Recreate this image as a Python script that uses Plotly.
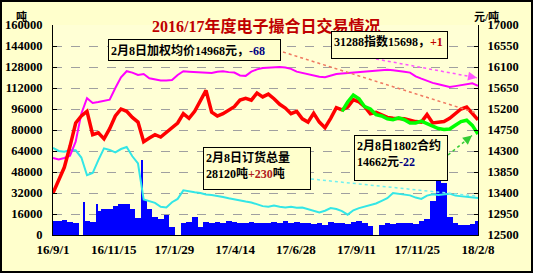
import plotly.graph_objects as go
import pandas as pd

# ---------------- data ----------------
week_dates = pd.date_range("2016-09-01", periods=76, freq="7D")

# daily volume (tons), weekly readings
volume = [10500, 11000, 11500, 10000, 9000, 0, 11000, 10000, 18000, 20000,
          20000, 22000, 24000, 24000, 20000, 13000, 27000, 20000, 14000, 12000,
          15000, 6000, 0, 9000, 10000, 14000, 6000, 10000, 9500, 10000,
          9000, 10500, 10000, 9500, 9000, 10000, 9000, 9500, 9000, 10000,
          9000, 10500, 9500, 10000, 9000, 9500, 8500, 9000, 8000, 10000,
          9000, 9500, 8500, 10000, 10500, 9500, 7000, 0, 8000, 9000,
          8500, 9000, 9500, 9000, 8500, 11000, 12500, 26000, 42000, 40000,
          14000, 9000, 8000, 7500, 8500, 11000]

spike_dates = ["2016-10-10", "2016-10-26", "2016-12-20"]
spike_volume = [25000, 24000, 57000]

# total order quantity (tons)
orders = [66300, 64000, 63500, 64800, 64500, 59000, 45500, 47200, 57000, 66000,
          64800, 63000, 65500, 67000, 60000, 54500, 27000, 25500, 24500, 21500,
          21000, 25000, 27500, 34000, 33000, 32500, 32000, 30800, 30500, 30000,
          29000, 28000, 27000, 26500, 25500, 24800, 23500, 22000, 21500, 22500,
          21500, 21000, 21500, 20800, 21000, 19800, 18500, 17200, 18500, 20500,
          19800, 18200, 15500, 18800, 20500, 21500, 22800, 24000, 26000, 28000,
          32000, 31500, 30500, 30200, 28500, 27500, 30000, 31000, 30500, 31200,
          31500, 30000, 29500, 28900, 28500, 28120]

# weighted average price (yuan/ton)
avg_price = [13400, 13700, 13950, 14400, 14900, 15050, 15150, 14650, 14690, 14560,
             14780, 15050, 15200, 15150, 15020, 14920, 14500, 14580, 14650, 14600,
             14700, 14800, 14900, 15100, 15000, 15150, 15390, 15600, 15130, 15050,
             15100, 15180, 15250, 15390, 15430, 15390, 15540, 15460, 15520, 15420,
             15300, 15220, 15100, 15150, 14990, 14920, 15110, 14920, 14800, 15000,
             15230, 15180, 15240, 15400, 15350, 15250, 15100, 15130, 15080, 15020,
             15000, 14990, 14990, 14960, 14930, 14920, 15080, 14900, 14920, 14930,
             15000, 15090, 15200, 15240, 15100, 14968]

# 31288 index (yuan/ton)
index_31288 = [14150, 14120, 14150, 14200, 14500, 15100, 15430, 15330, 15350, 15370,
               15400, 15650, 15880, 16010, 15980, 15930, 15950, 15860, 15830, 15810,
               15810, 15820, 15930, 16010, 16000, 15990, 15990, 15980, 15970, 16000,
               16010, 15990, 15980, 15920, 15910, 16000, 16050, 16080, 16090, 16100,
               16100, 16090, 16060, 16000, 15970, 15940, 15910, 15890, 15880, 15920,
               15950, 15960, 15970, 15990, 16000, 16000, 16010, 16020, 16030, 16040,
               16030, 16020, 16000, 15980, 15900, 15850, 15800, 15760, 15730, 15700,
               15672, 15690, 15710, 15740, 15750, 15698]

# 1802 contract (yuan/ton), starts later
c1802_dates = week_dates[51:]
c1802 = [15150, 15350, 15500, 15420, 15250, 15200, 15080, 15050, 14990, 14970,
         15010, 14970, 14900, 14900, 14940, 14880, 14830, 14780, 14760, 14770,
         14850, 14930, 14960, 14850, 14662]

tick_dates = ["2016-09-01", "2016-11-15", "2017-01-29", "2017-04-14",
              "2017-06-28", "2017-09-11", "2017-11-25", "2018-02-08"]
tick_labels = ["16/9/1", "16/11/15", "17/1/29", "17/4/14",
               "17/6/28", "17/9/11", "17/11/25", "18/2/8"]

title_text = "2016/17年度电子撮合日交易情况"

# ---------------- layout geometry ----------------
W, H = 533, 273
L, R, T, B = 53, 55, 25, 38
PW, PH = W - L - R, H - T - B
Y1 = (0, 160000)
Y2 = (12500, 17000)


def px(x):
    return (x - L) / PW


def py(y):
    return (H - B - y) / PH


def p1(v):
    return (v - Y1[0]) / (Y1[1] - Y1[0])


def p2(v):
    return (v - Y2[0]) / (Y2[1] - Y2[0])


DAY = 86400000
BG = "#FFFFCC"
MIX = "Liberation Serif, Noto Sans CJK SC"
SERIF = "Liberation Serif"

fig = go.Figure()
fig.add_bar(x=week_dates, y=volume, width=7 * DAY, marker_color="#0000FF",
            marker_line_width=0, yaxis="y")
fig.add_bar(x=spike_dates, y=spike_volume, width=1.5 * DAY, marker_color="#0000FF",
            marker_line_width=0, yaxis="y")
fig.add_scatter(x=week_dates, y=orders, mode="lines", yaxis="y",
                line=dict(color="#33E6E6", width=2))
fig.add_scatter(x=week_dates, y=index_31288, mode="lines", yaxis="y2",
                line=dict(color="#FF00FF", width=2))
fig.add_scatter(x=week_dates, y=avg_price, mode="lines", yaxis="y2",
                line=dict(color="#FF0000", width=3.5))
fig.add_scatter(x=c1802_dates, y=c1802, mode="lines", yaxis="y2",
                line=dict(color="#00FF00", width=3.5))

tickfont = dict(family=SERIF, size=13, color="black", weight="bold")
ytickfont = dict(family=SERIF, size=12.5, color="black", weight="bold")

fig.update_layout(
    width=W, height=H,
    margin=dict(l=L, r=R, t=T, b=B, pad=0, autoexpand=False),
    paper_bgcolor=BG, plot_bgcolor="#FFFFD5",
    showlegend=False, barmode="overlay", bargap=0,
    xaxis=dict(type="date", range=[week_dates[0], week_dates[-1]],
               tickvals=tick_dates, ticktext=tick_labels, tickfont=tickfont,
               showgrid=False, showline=True, linecolor="black", linewidth=1,
               ticks="", zeroline=False, ticklabelstandoff=2, automargin=False),
    yaxis=dict(range=list(Y1), tick0=0, dtick=16000, tickformat="d",
               tickfont=ytickfont,
               showgrid=True, gridcolor="#A0A0A0", griddash="dash", gridwidth=1,
               showline=True, linecolor="black", linewidth=1,
               ticks="inside", ticklen=4, tickcolor="black",
               zeroline=False, ticklabelstandoff=7, automargin=False),
    yaxis2=dict(range=list(Y2), tick0=12500, dtick=450, tickformat="d",
                overlaying="y", side="right", tickfont=ytickfont,
                showgrid=False, showline=True, linecolor="black", linewidth=1,
                ticks="inside", ticklen=4, tickcolor="black",
                zeroline=False, ticklabelstandoff=6, automargin=False),
)

ann = []
# title and unit labels
ann.append(dict(x=px(266), y=py(15), xref="paper", yref="paper", showarrow=False,
                text=title_text,
                font=dict(family=MIX, size=16, color="#C00000", weight="bold")))
ann.append(dict(x=px(14), y=py(8), xref="paper", yref="paper", showarrow=False,
                text="吨", font=dict(family=MIX, size=11, color="black", weight="bold")))
ann.append(dict(x=px(501), y=py(8), xref="paper", yref="paper", showarrow=False,
                text="元/吨", font=dict(family=MIX, size=11, color="black", weight="bold")))

boxfont = dict(family=MIX, size=12, color="black", weight="bold")


def box(left, top, right, bottom, text, valign):
    return dict(x=px(left), y=py(top), xref="paper", yref="paper",
                xanchor="left", yanchor="top", showarrow=False,
                width=right - left - 6, height=bottom - top - 6,
                align="left", valign=valign, text=text, font=boxfont,
                bgcolor=BG, bordercolor="black", borderwidth=1, borderpad=2)


ann.append(box(108, 39, 281, 61,
               "2月8日加权均价14968元，<span style='color:#000080'>-68</span>", "middle"))
ann.append(box(331, 31, 448, 59,
               "31288指数15698，<span style='color:#C00000'>+1</span>", "top"))
ann.append(box(203, 147, 311, 190,
               "2月8日订货总量<br>28120吨<span style='color:#B02020'>+230</span>吨", "top"))
ann.append(box(354, 135, 448, 181,
               "2月8日1802合约<br>14662元<span style='color:#000080'>-22</span>", "top"))

# dotted pointer lines (paper coordinates), heads at the series' last values
pointers = [
    ((283, 52), (px(476), p2(avg_price[-1] + 150)), "#F07860", False),
    ((376, 59), (px(477), p2(index_31288[-1] + 170)), "#FF55FF", True),
    ((311, 179), (px(477), p1(orders[-1] + 1500)), "#70F0F0", False),
    ((448, 155), (px(472), p2(c1802[-1] - 30)), "#33CC33", True),
]
shapes = []
for (tx, ty), (hx, hy), col, head in pointers:
    shapes.append(dict(type="line", xref="paper", yref="paper",
                       x0=px(tx), y0=py(ty), x1=hx, y1=hy,
                       line=dict(color=col, width=1.5, dash="dot")))
    if head:
        dxp = hx * PW - (tx - L)
        dyp = (H - B - hy * PH) - ty
        n = (dxp ** 2 + dyp ** 2) ** 0.5
        ann.append(dict(x=hx, y=hy, xref="paper", yref="paper", text="",
                        showarrow=True, arrowhead=2, arrowsize=1.2, arrowwidth=1.5,
                        arrowcolor=col, ax=-7 * dxp / n, ay=-7 * dyp / n))

# outer frame
shapes.append(dict(type="rect", xref="paper", yref="paper",
                   x0=px(1), x1=px(532), y0=py(272), y1=py(1),
                   line=dict(color="black", width=2)))

fig.update_layout(annotations=ann, shapes=shapes)
fig.write_html("out.html")
